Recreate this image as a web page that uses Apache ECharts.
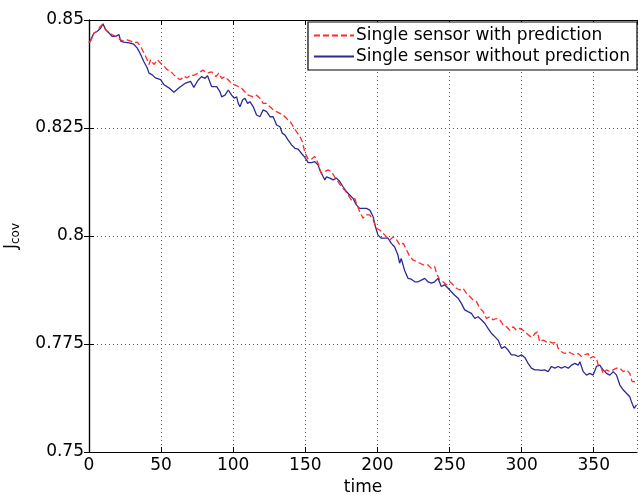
<!DOCTYPE html>
<html>
<head>
<meta charset="utf-8">
<script src="https://cdn.jsdelivr.net/npm/echarts@6/dist/echarts.min.js"></script>
<style>
html,body{margin:0;padding:0;background:#fff;}
#chart{width:638px;height:495px;}
</style>
</head>
<body>
<div id="chart"></div>
<script>
// ---- Data ----
const seriesNames = ['Single sensor with prediction', 'Single sensor without prediction'];
const xTicks = [0, 50, 100, 150, 200, 250, 300, 350];
const yTicks = [0.75, 0.775, 0.8, 0.825, 0.85];

const tBlue = [0,1.2,2.3,3.5,5.8,8,9.7,11.5,13.9,16,18.5,20.8,22,24,27.7,31,33.5,35.8,38,40.4,41.6,43.9,46,49.7,52,55.4,58.9,62.4,67,70.4,72.7,75.5,78,80.4,82.2,85,88.5,90.8,92,94.3,96.6,98.9,100.7,102.4,103.5,104.7,106.5,108.1,110,111.6,113.9,116.2,118.5,120.8,123.2,125.5,127.7,130.1,132.4,134,135.8,138.1,140.5,142.8,145,147.4,149.7,152,154.3,156.6,158.9,160,162.4,163.5,164.7,167,169.3,171.6,173.9,176.2,178.5,180.8,183.1,185.4,187.7,190,192.4,194.7,197,198.6,200.4,202.7,205,207.3,209.6,211.9,214.2,215.4,216.5,218.8,221.2,223.5,226,228.2,230.5,232.8,235.1,237.4,239.7,242,244.3,246.6,249,251.3,253.6,255.9,258.2,260.5,262.8,265.2,267.5,269.8,272.1,274.4,276.7,279,281.4,283.7,286,288.3,290.6,292.9,295.2,297.6,299.9,302.2,304.5,306.8,309.1,311.4,313.7,316,318.4,320.7,323,325.3,327.6,329.9,332.3,334.6,336.9,339.2,340.4,342.7,345,347.3,349.6,351.9,354.2,356.5,358.8,361.2,363.5,365.8,368.1,370.4,372.7,375,376.2,378,379.6];
const vBlue = [0.8447,0.8454,0.8462,0.8470,0.8474,0.8481,0.8491,0.8478,0.8470,0.8462,0.8462,0.8466,0.8451,0.8449,0.8447,0.8444,0.8435,0.8420,0.8404,0.8389,0.8377,0.8373,0.8366,0.8362,0.8350,0.8343,0.8333,0.8343,0.8354,0.8358,0.8344,0.8360,0.8369,0.8365,0.8371,0.8346,0.8346,0.8334,0.8322,0.8326,0.8338,0.8326,0.8319,0.8322,0.8307,0.8299,0.8315,0.8319,0.8307,0.8311,0.8299,0.8280,0.8276,0.8292,0.8288,0.8276,0.8276,0.8257,0.8253,0.8238,0.8234,0.8222,0.8211,0.8203,0.8201,0.8191,0.8182,0.8170,0.8170,0.8172,0.8164,0.8153,0.8137,0.8130,0.8137,0.8134,0.8130,0.8134,0.8126,0.8114,0.8103,0.8095,0.8087,0.8072,0.8064,0.8064,0.8064,0.8060,0.8045,0.8022,0.8002,0.7995,0.7995,0.7995,0.7983,0.7975,0.7956,0.7937,0.7948,0.7921,0.7902,0.7900,0.7894,0.7894,0.7898,0.7902,0.7894,0.7891,0.7894,0.7902,0.7883,0.7887,0.7879,0.7871,0.7863,0.7856,0.7844,0.7829,0.7825,0.7821,0.7809,0.7813,0.7806,0.7798,0.7786,0.7775,0.7767,0.7759,0.7740,0.7744,0.7736,0.7725,0.7725,0.7721,0.7725,0.7719,0.7705,0.7694,0.7690,0.7690,0.7689,0.7690,0.7686,0.7698,0.7694,0.7698,0.7694,0.7698,0.7694,0.7701,0.7705,0.7701,0.7709,0.7686,0.7678,0.7682,0.7678,0.7698,0.7701,0.7690,0.7682,0.7678,0.7686,0.7678,0.7655,0.7644,0.7636,0.7628,0.7616,0.7601,0.7609];

const tRed = [0,1.2,2.3,3.5,5.8,7.5,9.2,11.5,13.9,16,18.5,22,24,26.5,28.9,31,33.5,35.8,38,40.4,41.6,42.7,45,47.4,49.7,52,54.3,56.6,58.9,61.2,63.5,65.8,68.1,70.4,72.7,75.8,79,82,85,88,90,92,94.3,96.6,98.9,101,103.5,105.8,108,110.4,111.6,113.9,116.2,118.5,120.8,123,125.5,127.7,130,132.4,134.7,137,139.4,141.7,144,146.3,148,149.7,152,154.3,156.6,158.9,161,163.5,165.8,168,170.4,172.7,175,177.4,179.7,182,184.3,185.4,187.7,190,192.4,194.7,197,199.3,201.6,204,206.3,208.6,211,213.3,215.6,217.9,220.2,222.5,224.9,227.2,229.5,231.8,235.1,237.4,239.7,240.9,243.2,245.5,247.8,250.2,252.5,254.8,257.1,259.4,261.7,264,266.3,268.7,271,273.3,275.6,277.9,280.2,282.5,284.9,287.2,289.5,291.8,294.1,296.4,298.7,301,303.4,305.7,307.5,309.1,311,312.5,314.9,317.2,319.5,321.8,324.1,325.3,327.6,329.9,332.3,334.6,336.9,339.2,341.5,343.8,346.1,347.3,349.6,351.9,353.1,354.9,356.5,358.8,361.2,363.5,365.8,368.1,370.4,372.7,375,376.6,378.4,380];
const vRed = [0.8447,0.8452,0.8460,0.8470,0.8474,0.8484,0.8489,0.8478,0.8470,0.8466,0.8462,0.8454,0.8451,0.8454,0.8451,0.8447,0.8449,0.8439,0.8424,0.8408,0.8397,0.8408,0.8397,0.8408,0.8400,0.8393,0.8385,0.8381,0.8373,0.8366,0.8362,0.8370,0.8366,0.8373,0.8372,0.8377,0.8384,0.8377,0.8380,0.8369,0.8377,0.8365,0.8369,0.8361,0.8353,0.8350,0.8346,0.8342,0.8334,0.8326,0.8330,0.8322,0.8326,0.8319,0.8307,0.8307,0.8299,0.8292,0.8288,0.8284,0.8280,0.8272,0.8265,0.8253,0.8241,0.8230,0.8218,0.8193,0.8178,0.8178,0.8184,0.8168,0.8145,0.8149,0.8153,0.8149,0.8137,0.8126,0.8114,0.8106,0.8095,0.8083,0.8087,0.8076,0.8056,0.8041,0.8049,0.8049,0.8037,0.8018,0.8014,0.8006,0.7998,0.7991,0.7998,0.7991,0.7979,0.7983,0.7968,0.7952,0.7944,0.7941,0.7937,0.7933,0.7933,0.7925,0.7929,0.7914,0.7898,0.7894,0.7887,0.7894,0.7887,0.7879,0.7875,0.7879,0.7867,0.7860,0.7852,0.7848,0.7833,0.7825,0.7809,0.7813,0.7806,0.7809,0.7806,0.7794,0.7790,0.7782,0.7790,0.7782,0.7786,0.7782,0.7775,0.7768,0.7766,0.7774,0.7778,0.7755,0.7759,0.7755,0.7755,0.7752,0.7755,0.7740,0.7732,0.7728,0.7732,0.7728,0.7725,0.7728,0.7721,0.7725,0.7728,0.7717,0.7721,0.7717,0.7701,0.7698,0.7682,0.7690,0.7686,0.7690,0.7694,0.7694,0.7686,0.7690,0.7682,0.7663,0.7663,0.7665];

// ---- Chart ----
const FONT = 'DejaVu Sans';
const pairs = (ts, vs) => ts.map((t, i) => [t, vs[i]]);
const xMin = xTicks[0], xMax = 380, xStep = xTicks[1] - xTicks[0];
const yMin = yTicks[0], yMax = yTicks[yTicks.length - 1], yStep = 0.025;

const chart = echarts.init(document.getElementById('chart'), null, {renderer: 'canvas'});
const axisLine = {show: true, lineStyle: {color: '#000', width: 1.2}};
const tick = {show: true, inside: true, length: 5, lineStyle: {color: '#000', width: 1}};
const grid = {show: true, lineStyle: {color: '#555', width: 1, type: [1, 3]}};

chart.setOption({
  animation: false,
  backgroundColor: '#fff',
  textStyle: {fontFamily: FONT},
  grid: {left: 89, right: 1, top: 20, bottom: 43, containLabel: false, outerBoundsMode: 'none'},
  legend: {
    orient: 'vertical', right: 1, top: 22,
    data: seriesNames,
    backgroundColor: '#fff', borderColor: '#000', borderWidth: 1.2, borderRadius: 0,
    padding: [5, 7, 5, 5], itemGap: 4, itemWidth: 40, itemHeight: 17,
    itemStyle: {opacity: 0},
    textStyle: {fontFamily: FONT, fontSize: 17, color: '#000', padding: [0, 0, 0, -3]}
  },
  xAxis: [{
    type: 'value', min: xMin, max: xMax, interval: xStep, position: 'bottom',
    axisLine, axisTick: tick, splitLine: grid,
    axisLabel: {fontFamily: FONT, fontSize: 17, color: '#000', margin: 5, showMaxLabel: false,
      formatter: v => (v % xStep === 0 ? String(v) : '')},
    name: 'time', nameLocation: 'middle', nameGap: 26,
    nameTextStyle: {fontFamily: FONT, fontSize: 17, color: '#000'}
  }, {
    type: 'value', min: xMin, max: xMax, interval: xStep, position: 'top',
    axisLine, axisTick: tick, splitLine: {show: false}, axisLabel: {show: false}
  }],
  yAxis: [{
    type: 'value', min: yMin, max: yMax, interval: yStep, position: 'left',
    axisLine, axisTick: tick, splitLine: grid,
    axisLabel: {fontFamily: FONT, fontSize: 17, color: '#000', margin: 5},
    name: '{j|J}{s|cov}', nameLocation: 'middle', nameRotate: 90, nameGap: 67,
    nameTextStyle: {
      fontFamily: FONT, color: '#000',
      rich: {
        j: {fontFamily: FONT, fontSize: 17, color: '#000'},
        s: {fontFamily: FONT, fontSize: 12, color: '#000', verticalAlign: 'bottom', padding: [9, 0, 0, 0]}
      }
    }
  }, {
    type: 'value', min: yMin, max: yMax, interval: yStep, position: 'right',
    axisLine, axisTick: tick, splitLine: {show: false}, axisLabel: {show: false}
  }],
  series: [{
    name: seriesNames[0], type: 'line', data: pairs(tRed, vRed),
    showSymbol: false, symbol: 'none', z: 3,
    lineStyle: {color: '#ff2a2a', width: 1.3, type: [6, 3]},
    itemStyle: {color: '#ff2a2a'}
  }, {
    name: seriesNames[1], type: 'line', data: pairs(tBlue, vBlue),
    showSymbol: false, symbol: 'none', z: 2,
    lineStyle: {color: '#2b2b96', width: 1.3},
    itemStyle: {color: '#2b2b96'}
  }]
});
</script>
</body>
</html>
